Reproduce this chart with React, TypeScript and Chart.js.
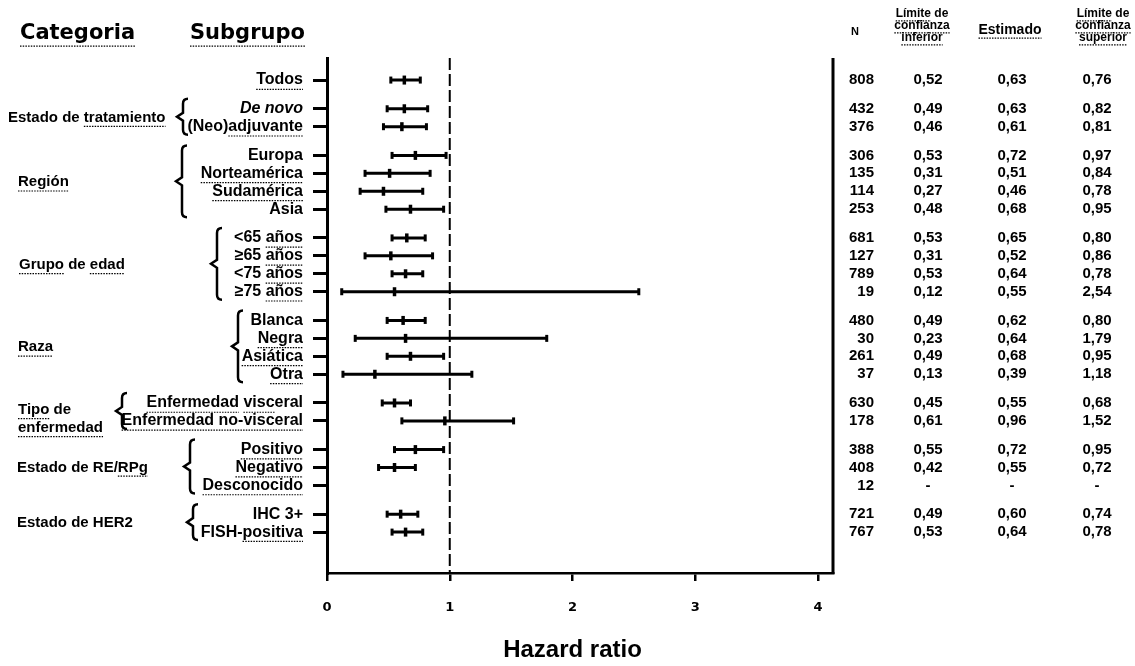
import React, { useEffect, useRef } from 'react';
import { Chart, registerables } from 'chart.js';

Chart.register(...registerables);

// ---------------- DATA ----------------
const groupCategories = ['', 'Estado de tratamiento', 'Región', 'Grupo de edad', 'Raza', 'Tipo de\nenfermedad', 'Estado de RE/RPg', 'Estado de HER2'];
const groupSubgroups: string[][] = [
  ['Todos'],
  ['De novo', '(Neo)adjuvante'],
  ['Europa', 'Norteamérica', 'Sudamérica', 'Asia'],
  ['<65 años', '≥65 años', '<75 años', '≥75 años'],
  ['Blanca', 'Negra', 'Asiática', 'Otra'],
  ['Enfermedad visceral', 'Enfermedad no-visceral'],
  ['Positivo', 'Negativo', 'Desconocido'],
  ['IHC 3+', 'FISH-positiva'],
];
const nValues = [808, 432, 376, 306, 135, 114, 253, 681, 127, 789, 19, 480, 30, 261, 37, 630, 178, 388, 408, 12, 721, 767];
const lowerCI: (number | null)[] = [0.52, 0.49, 0.46, 0.53, 0.31, 0.27, 0.48, 0.53, 0.31, 0.53, 0.12, 0.49, 0.23, 0.49, 0.13, 0.45, 0.61, 0.55, 0.42, null, 0.49, 0.53];
const estimates: (number | null)[] = [0.63, 0.63, 0.61, 0.72, 0.51, 0.46, 0.68, 0.65, 0.52, 0.64, 0.55, 0.62, 0.64, 0.68, 0.39, 0.55, 0.96, 0.72, 0.55, null, 0.60, 0.64];
const upperCI: (number | null)[] = [0.76, 0.82, 0.81, 0.97, 0.84, 0.78, 0.95, 0.80, 0.86, 0.78, 2.54, 0.80, 1.79, 0.95, 1.18, 0.68, 1.52, 0.95, 0.72, null, 0.74, 0.78];
const xTickValues = [0, 1, 2, 3, 4];
const referenceHR = 1;

// ---------------- LAYOUT / STYLE ----------------
const W = 1135, H = 666;
const X_MAX = 4.122;
const Y_MIN = -1.23, Y_MAX = 27.48;
const GROUP_GAP = 1.6;
const catX = [0, 8, 18, 19, 18, 18, 17, 17];
const braceX = [0, 183, 182, 217, 238, 122, 190, 193];
const SANS = '"Liberation Sans", Arial, sans-serif';
const DEJAVU = '"DejaVu Sans", sans-serif';

const underlines: Record<string, string[]> = {
  'Categoria': ['Categoria'], 'Subgrupo': ['Subgrupo'], 'Todos': ['Todos'],
  'Estado de tratamiento': ['tratamiento'], '(Neo)adjuvante': ['adjuvante'],
  'Región': ['Región'], 'Norteamérica': ['Norteamérica'], 'Sudamérica': ['Sudamérica'],
  'Grupo de edad': ['Grupo', 'edad'], '<65 años': ['años'], '≥65 años': ['años'], '<75 años': ['años'], '≥75 años': ['años'],
  'Raza': ['Raza'], 'Negra': ['Negra'], 'Asiática': ['Asiática'], 'Otra': ['Otra'],
  'Tipo de': ['Tipo'], 'enfermedad': ['enfermedad'], 'Enfermedad visceral': ['Enfermedad', 'visc'],
  'Enfermedad no-visceral': ['Enfermedad no-visceral'], 'Positivo': ['Positivo'], 'Negativo': ['Negativo'],
  'Desconocido': ['Desconocido'], 'Estado de RE/RPg': ['RPg'], 'FISH-positiva': ['positiva'],
  'Límite de': ['Límite'], 'confianza': ['confianza'], 'inferior': ['inferior'], 'superior': ['superior'], 'Estimado': ['Estimado'],
};

// derived rows
const subgroupLabels: string[] = [];
const rowPos: number[] = [];
const groupRows: number[][] = [];
{
  let p = 0;
  groupSubgroups.forEach((subs, gi) => {
    const rows: number[] = [];
    subs.forEach((s, si) => {
      if (gi > 0 || si > 0) p += si === 0 ? GROUP_GAP : 1;
      subgroupLabels.push(s);
      rowPos.push(p);
      rows.push(rowPos.length - 1);
    });
    groupRows.push(rows);
  });
}

const fmt = (v: number | null) => (v == null ? '-' : v.toFixed(2).replace('.', ','));

function drawUnderline(ctx: CanvasRenderingContext2D, text: string, left: number, y: number, size: number) {
  const subs = underlines[text];
  if (!subs) return;
  ctx.save();
  ctx.strokeStyle = '#000';
  ctx.lineWidth = 1.2;
  ctx.setLineDash([1.5, 1.2]);
  for (const s of subs) {
    const i = text.indexOf(s);
    if (i < 0) continue;
    const pre = ctx.measureText(text.slice(0, i)).width;
    const sw = ctx.measureText(s).width;
    const uy = y + size * 0.58;
    ctx.beginPath();
    ctx.moveTo(left + pre, uy);
    ctx.lineTo(left + pre + sw, uy);
    ctx.stroke();
  }
  ctx.restore();
}

function drawText(ctx: CanvasRenderingContext2D, text: string, x: number, y: number, align: CanvasTextAlign, font: string, size: number) {
  ctx.font = font;
  ctx.textAlign = align;
  ctx.textBaseline = 'middle';
  ctx.fillStyle = '#000';
  ctx.fillText(text, x, y);
  const w = ctx.measureText(text).width;
  const left = align === 'right' ? x - w : align === 'center' ? x - w / 2 : x;
  drawUnderline(ctx, text, left, y, size);
}

function drawBrace(ctx: CanvasRenderingContext2D, x: number, top: number, bottom: number) {
  const mid = (top + bottom) / 2;
  ctx.save();
  ctx.strokeStyle = '#000';
  ctx.lineWidth = 2.5;
  ctx.beginPath();
  ctx.moveTo(x + 5, top);
  ctx.quadraticCurveTo(x, top, x, top + 5);
  ctx.lineTo(x, mid - 4);
  ctx.lineTo(x - 6, mid);
  ctx.lineTo(x, mid + 4);
  ctx.lineTo(x, bottom - 5);
  ctx.quadraticCurveTo(x, bottom, x + 5, bottom);
  ctx.stroke();
  ctx.restore();
}

const decorPlugin = {
  id: 'forestDecor',
  afterDraw(chart: any) {
    const ctx: CanvasRenderingContext2D = chart.ctx;
    const { chartArea } = chart;
    const ys = chart.scales.y;
    const xs = chart.scales.x;
    ctx.save();
    // right frame line
    ctx.strokeStyle = '#000';
    ctx.lineWidth = 3;
    ctx.beginPath();
    ctx.moveTo(chartArea.right, chartArea.top);
    ctx.lineTo(chartArea.right, chartArea.bottom + 1);
    ctx.stroke();

    // headers
    drawText(ctx, 'Categoria', 20, 34, 'left', `bold 21px ${DEJAVU}`, 21);
    drawText(ctx, 'Subgrupo', 190, 34, 'left', `bold 21px ${DEJAVU}`, 21);

    // subgroup labels at the y-axis rows
    subgroupLabels.forEach((s, i) => {
      const y = ys.getPixelForValue(rowPos[i]);
      const font = `${i === 1 ? 'italic ' : ''}bold 16px ${SANS}`;
      drawText(ctx, s, chartArea.left - 24, y, 'right', font, 16);
    });

    // categories + braces
    groupCategories.forEach((c, gi) => {
      if (!c) return;
      const rows = groupRows[gi];
      const yTop = ys.getPixelForValue(rowPos[rows[0]]);
      const yBot = ys.getPixelForValue(rowPos[rows[rows.length - 1]]);
      const mid = (yTop + yBot) / 2;
      const lines = c.split('\n');
      if (lines.length === 1) {
        drawText(ctx, c, catX[gi], mid, 'left', `bold 15px ${SANS}`, 15);
      } else {
        lines.forEach((l, li) => drawText(ctx, l, catX[gi], mid - 2 + li * 18, 'left', `bold 15px ${SANS}`, 15));
      }
      drawBrace(ctx, braceX[gi], yTop - 10, yBot + 8);
    });

    // right table headers
    const hf = `bold 12px ${SANS}`;
    drawText(ctx, 'N', 855, 32, 'center', `bold 11px ${SANS}`, 11);
    ['Límite de', 'confianza', 'inferior'].forEach((t, i) => drawText(ctx, t, 922, 14 + i * 12, 'center', hf, 12));
    drawText(ctx, 'Estimado', 1010, 30, 'center', `bold 14px ${SANS}`, 14);
    ['Límite de', 'confianza', 'superior'].forEach((t, i) => drawText(ctx, t, 1103, 14 + i * 12, 'center', hf, 12));

    // table values
    const nf = `bold 15px ${SANS}`;
    subgroupLabels.forEach((_, i) => {
      const y = ys.getPixelForValue(rowPos[i]);
      drawText(ctx, String(nValues[i]), 874, y, 'right', nf, 15);
      drawText(ctx, fmt(lowerCI[i]), 928, y, 'center', nf, 15);
      drawText(ctx, fmt(estimates[i]), 1012, y, 'center', nf, 15);
      drawText(ctx, fmt(upperCI[i]), 1097, y, 'center', nf, 15);
    });

    // axis title
    drawText(ctx, 'Hazard ratio', xs.getPixelForValue(2), 650, 'center', `bold 24px ${SANS}`, 24);
    ctx.restore();
  },
};

export default function App() {
  const ref = useRef<HTMLCanvasElement>(null);
  useEffect(() => {
    document.body.style.margin = '0';
    document.body.style.overflow = 'hidden';
    const whisker: any[] = [];
    const caps: any[] = [];
    const points: any[] = [];
    subgroupLabels.forEach((_, i) => {
      const lo = lowerCI[i], hi = upperCI[i], e = estimates[i];
      if (lo == null || hi == null || e == null) return;
      whisker.push({ x: lo, y: rowPos[i] }, { x: hi, y: rowPos[i] }, { x: hi, y: null });
      caps.push({ x: lo, y: rowPos[i] }, { x: hi, y: rowPos[i] });
      points.push({ x: e, y: rowPos[i] });
    });
    const chart = new Chart(ref.current!, {
      type: 'scatter',
      data: {
        datasets: [
          { data: points, pointStyle: 'line', rotation: 90, pointRadius: 4.5, borderWidth: 3.5, borderColor: '#000', backgroundColor: '#000' } as any,
          { data: caps, pointStyle: 'line', rotation: 90, pointRadius: 3.5, borderWidth: 3, borderColor: '#000', backgroundColor: '#000' } as any,
          { data: whisker, showLine: true, spanGaps: false, pointRadius: 0, borderWidth: 3, borderColor: '#000' } as any,
          { data: [{ x: referenceHR, y: Y_MIN }, { x: referenceHR, y: Y_MAX }], showLine: true, pointRadius: 0, borderWidth: 2, borderColor: '#000', borderDash: [12, 4] } as any,
        ],
      },
      options: {
        responsive: false,
        animation: false,
        events: [],
        layout: { padding: { left: 313, top: 58, right: W - 833, bottom: 0 } },
        plugins: { legend: { display: false }, tooltip: { enabled: false } },
        scales: {
          x: {
            type: 'linear',
            min: 0,
            max: X_MAX,
            afterFit: (s: any) => { s.height = H - 573; },
            afterBuildTicks: (s: any) => { s.ticks = xTickValues.map((v) => ({ value: v })); },
            ticks: { includeBounds: false, padding: 19, color: '#000', font: { family: DEJAVU, size: 13, weight: 'bold' }, callback: (v: any) => String(v) },
            grid: { drawOnChartArea: false, drawTicks: true, tickLength: 8, color: '#000', lineWidth: 2.5 },
            border: { display: true, color: '#000', width: 2.5 },
          },
          y: {
            type: 'linear',
            reverse: true,
            min: Y_MIN,
            max: Y_MAX,
            afterFit: (s: any) => { s.width = 14; },
            afterBuildTicks: (s: any) => { s.ticks = rowPos.map((v) => ({ value: v })); },
            ticks: { display: false, autoSkip: false },
            grid: { drawOnChartArea: false, drawTicks: true, tickLength: 14, color: '#000', lineWidth: 3 },
            border: { display: true, color: '#000', width: 3 },
          },
        },
      } as any,
      plugins: [decorPlugin],
    });
    return () => chart.destroy();
  }, []);
  return (
    <div style={{ width: W, height: H, background: '#fff' }}>
      <canvas ref={ref} width={W} height={H} style={{ width: W, height: H, display: 'block' }} />
    </div>
  );
}
